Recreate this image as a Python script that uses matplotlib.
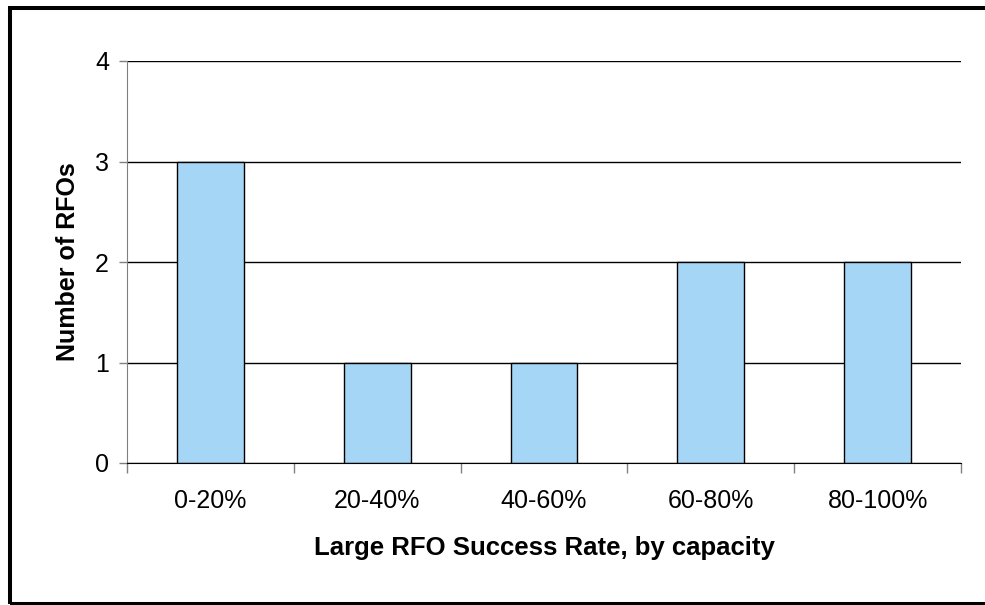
import matplotlib.pyplot as plt
from matplotlib.patches import Rectangle

plt.rcParams['font.family'] = ['Liberation Sans', 'DejaVu Sans']

# success-rate buckets and number of RFOs in each
categories = ['0-20%', '20-40%', '40-60%', '60-80%', '80-100%']
counts = [3, 1, 1, 2, 2]
y_ticks = [0, 1, 2, 3, 4]

W, H = 985, 605
fig = plt.figure(figsize=(W / 100, H / 100), dpi=100)
ax = fig.add_axes([127 / W, 1 - 463 / H, (961 - 127) / W, (463 - 61) / H])

x = list(range(len(categories)))
ax.bar(x, counts, width=0.4, color='#A6D6F6', edgecolor='black', linewidth=1, zorder=3)

ax.set_xlim(-0.5, len(categories) - 0.5)
ax.set_ylim(0, 4)

# horizontal gridlines at each whole number
ax.set_yticks(y_ticks)
ax.yaxis.grid(True, color='black', linewidth=1, zorder=0)
ax.tick_params(axis='y', direction='out', length=6, width=1, color='#808080',
               pad=7, labelsize=18)

# x ticks sit on the category boundaries, labels in the middle
ax.set_xticks([i - 0.5 for i in range(len(categories) + 1)])
ax.set_xticklabels([])
ax.set_xticks(x, minor=True)
ax.set_xticklabels(categories, minor=True)
ax.tick_params(axis='x', which='major', direction='out', length=7, width=1, color='#808080')
ax.tick_params(axis='x', which='minor', length=0, pad=19, labelsize=18)

for side in ['top', 'right']:
    ax.spines[side].set_visible(False)
ax.spines['left'].set_color('#808080')
ax.spines['bottom'].set_color('black')
ax.spines['bottom'].set_zorder(4)

fig.text(68 / W, 1 - 262 / H, 'Number of RFOs', rotation=90, ha='center', va='center',
         fontsize=18, fontweight='bold')
fig.text(544 / W, 1 - 548 / H, 'Large RFO Success Rate, by capacity', ha='center', va='center',
         fontsize=18.5, fontweight='bold')

# outer frame
fig.patches.append(Rectangle((10 / W, 1 - 603.5 / H), 1.0, (603.5 - 8) / H,
                             transform=fig.transFigure, fill=False,
                             edgecolor='black', linewidth=2.9))

fig.savefig('out.png', dpi=100)
